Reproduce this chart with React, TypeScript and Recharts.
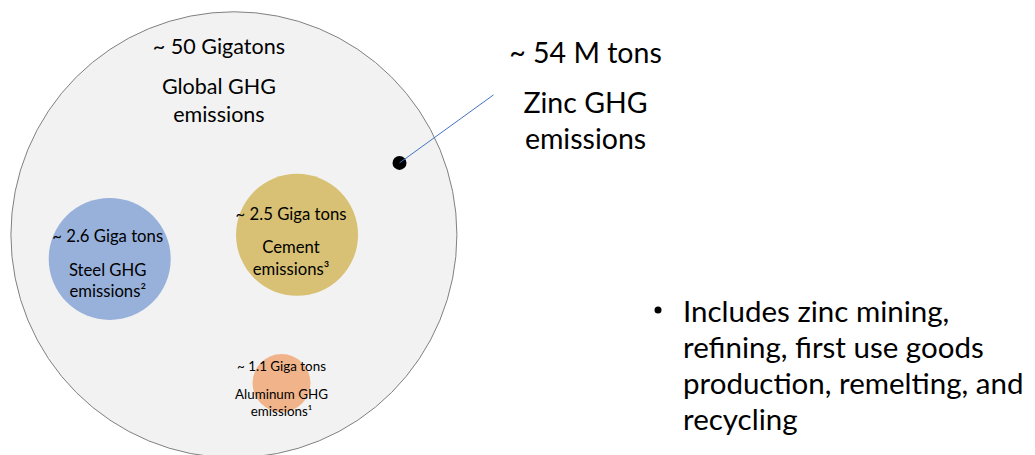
import React from "react";
import { ScatterChart, Scatter, XAxis, YAxis } from "recharts";

// emissions per source
const sources = ["Global", "Steel", "Cement", "Aluminum", "Zinc"];
const gigatons = [50, 2.6, 2.5, 1.1, 0.054];
const amountLabels = [
  "~ 50 Gigatons",
  "~ 2.6 Giga tons",
  "~ 2.5 Giga tons",
  "~ 1.1 Giga tons",
  "~ 54 M tons",
];
const nameLines = [
  ["Global GHG", "emissions"],
  ["Steel GHG", "emissions²"],
  ["Cement", "emissions³"],
  ["Aluminum GHG", "emissions¹"],
  ["Zinc GHG", "emissions"],
];
const bulletLines = [
  "Includes zinc mining,",
  "refining, first use goods",
  "production, remelting, and",
  "recycling",
];

// diagram layout (0-100 space, y from the top)
const bubbleX = [22.6, 10.6, 28.7, 27.2, 38.6];
const bubbleY = [51.6, 56.9, 51.6, 84.2, 35.8];

const W = 1035;
const H = 455;
const FONT = "Lato, 'Open Sans', sans-serif";

type BubbleStyle = {
  r: number;
  fill: string;
  stroke?: string;
  fontSize: number;
  dx: number;
  dy: [number, number, number];
  leader?: [number, number];
};

const styles: BubbleStyle[] = [
  { r: 223, fill: "#f2f2f2", stroke: "#808080", fontSize: 21.5, dx: -15, dy: [-181, -141, -113] },
  { r: 61, fill: "#97b1db", fontSize: 16.7, dx: -2, dy: [-17, 17, 38] },
  { r: 61, fill: "#d8c174", fontSize: 16.7, dx: -6, dy: [-15, 18, 40] },
  { r: 29, fill: "#f1b48a", fontSize: 13.4, dx: 0, dy: [-12, 16, 33] },
  { r: 7, fill: "#000000", fontSize: 28.5, dx: 186, dy: [-100, -50, -14], leader: [94, -68] },
];

const data = sources.map((name, i) => ({
  name,
  gt: gigatons[i],
  x: bubbleX[i],
  y: bubbleY[i],
}));

function Bubble(props: any) {
  const { cx, cy, payload } = props;
  const i = sources.indexOf(payload.name);
  const s = styles[i];
  const lines = [amountLabels[i], ...nameLines[i]];
  return (
    <g>
      <circle cx={cx} cy={cy} r={s.r} fill={s.fill} stroke={s.stroke ?? "none"} strokeWidth={1} />
      {s.leader && (
        <line
          x1={cx}
          y1={cy}
          x2={cx + s.leader[0]}
          y2={cy + s.leader[1]}
          stroke="#4472c4"
          strokeWidth={1}
        />
      )}
      {lines.map((t, k) => (
        <text
          key={k}
          x={cx + s.dx}
          y={cy + s.dy[k]}
          textAnchor="middle"
          fontFamily={FONT}
          fontSize={s.fontSize}
          fill="#000"
        >
          {t}
        </text>
      ))}
    </g>
  );
}

export default function App() {
  return (
    <div style={{ position: "absolute", left: 0, top: 0, width: W, height: H, background: "#fff" }}>
      <ScatterChart width={W} height={H} margin={{ top: 0, right: 0, bottom: 0, left: 0 }}>
        <XAxis type="number" dataKey="x" domain={[0, 100]} hide />
        <YAxis type="number" dataKey="y" domain={[0, 100]} reversed hide />
        <Scatter data={data} shape={Bubble} isAnimationActive={false} />
      </ScatterChart>
      <svg
        width={W}
        height={H}
        style={{ position: "absolute", left: 0, top: 0, pointerEvents: "none" }}
      >
        <circle cx={658} cy={310} r={3.5} fill="#000" />
        {bulletLines.map((t, k) => (
          <text key={k} x={683} y={322 + k * 36} fontFamily={FONT} fontSize={29.5} fill="#000">
            {t}
          </text>
        ))}
      </svg>
    </div>
  );
}
